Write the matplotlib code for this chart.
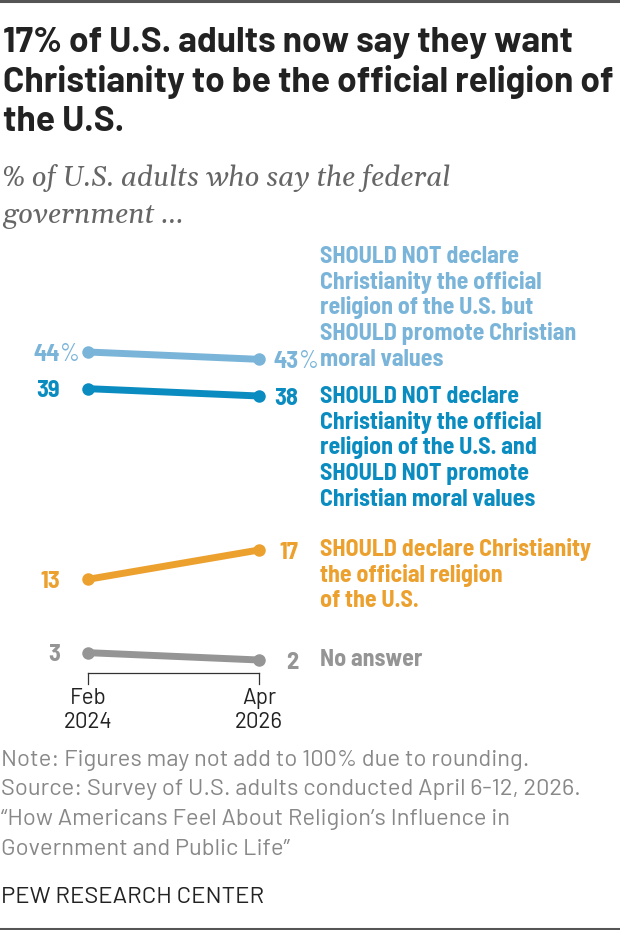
import matplotlib.pyplot as plt
from matplotlib.lines import Line2D

W, H = 620, 930

periods = ["Feb\n2024", "Apr\n2026"]
series_names = [
    "SHOULD NOT declare\nChristianity the official\nreligion of the U.S. but\nSHOULD promote Christian\nmoral values",
    "SHOULD NOT declare\nChristianity the official\nreligion of the U.S. and\nSHOULD NOT promote\nChristian moral values",
    "SHOULD declare Christianity\nthe official religion\nof the U.S.",
    "No answer",
]
feb_values = [44, 39, 13, 3]
apr_values = [43, 38, 17, 2]
colors = ["#7ab5d9", "#0a8cc0", "#eca12f", "#959595"]

title_lines = ["17% of U.S. adults now say they want",
               "Christianity to be the official religion of",
               "the U.S."]
subtitle_lines = ["% of U.S. adults who say the federal", "government ..."]
note_lines = ["Note: Figures may not add to 100% due to rounding.",
              "Source: Survey of U.S. adults conducted April 6-12, 2026.",
              "\u201cHow Americans Feel About Religion\u2019s Influence in",
              "Government and Public Life\u201d"]

TITLE_FONT = ["Barlow", "Roboto", "Liberation Sans"]
LABEL_FONT = ["Barlow Semi Condensed", "Roboto", "Liberation Sans"]
BODY_FONT = ["Barlow", "Roboto", "Liberation Sans"]
SERIF = ["Gelasio", "DejaVu Serif"]

fig = plt.figure(figsize=(W / 100, H / 100), dpi=100)
renderer = fig.canvas.get_renderer()


def fx(x):
    return x / W


def fy(y):
    return 1 - y / H


def fit_size(text, target_px, **kw):
    # font size at which `text` is target_px wide
    t = fig.text(0, 0, text, fontsize=20, **kw)
    w = t.get_window_extent(renderer).width
    t.remove()
    return 20 * target_px / w


def put_lines(lines, x, baselines, **kw):
    for line, b in zip(lines, baselines):
        fig.text(fx(x), fy(b), line, ha="left", va="baseline", **kw)


# plot area: x from Feb (88px) to Apr (259px), y from 44 (352px) to 2 (660px)
ax = fig.add_axes([fx(88), fy(660), fx(259) - fx(88), fy(352) - fy(660)])
ax.set_xlim(0, 1)
ax.set_ylim(2, 44)
ax.axis("off")

xs = [0, 1]
for i in range(len(series_names)):
    ax.plot(xs, [feb_values[i], apr_values[i]], color=colors[i], lw=5,
            solid_capstyle="butt", clip_on=False, zorder=2)
    ax.plot(xs, [feb_values[i], apr_values[i]], "o", color=colors[i], ms=9,
            mec="none", clip_on=False, zorder=3)

# series labels
lab_fs = fit_size("SHOULD declare Christianity", 271, family=LABEL_FONT,
                  fontweight="bold")
first_base = [263, 403, 556, 666]
for i, name in enumerate(series_names):
    lines = name.split("\n")
    put_lines(lines, 320, [first_base[i] + 25.7 * k for k in range(len(lines))],
              color=colors[i], fontsize=lab_fs, fontweight="bold",
              family=LABEL_FONT)

# value labels
num_fs = lab_fs * 1.02
dy = -0.35 * num_fs
for i in range(len(series_names)):
    kw = dict(color=colors[i], fontsize=num_fs, fontweight="bold",
              family=LABEL_FONT, va="baseline", textcoords="offset points",
              annotation_clip=False)
    ax.annotate(str(feb_values[i]), (0, feb_values[i]), xytext=(-20, dy),
                ha="right", **kw)
    ax.annotate(str(apr_values[i]), (1, apr_values[i]), xytext=(28.5, dy),
                ha="right", **kw)
    if i == 0:
        kw["fontweight"] = "normal"
        ax.annotate("%", (0, feb_values[i]), xytext=(-20, dy), ha="left", **kw)
        ax.annotate("%", (1, apr_values[i]), xytext=(28.5, dy), ha="left", **kw)

# x axis bracket
bracket_y = 673
fig.add_artist(Line2D([fx(88), fx(259)], [fy(bracket_y), fy(bracket_y)],
                      color="#333333", lw=0.9))
for px in (88, 259):
    fig.add_artist(Line2D([fx(px), fx(px)], [fy(bracket_y), fy(684)],
                          color="#333333", lw=0.9))
tick_fs = fit_size("2024", 49, family=BODY_FONT)
for px, lab in zip((88, 259), periods):
    for line, b in zip(lab.split("\n"), (704, 728)):
        fig.text(fx(px), fy(b), line, ha="center", va="baseline",
                 fontsize=tick_fs, family=BODY_FONT, color="#222222")

# title + subtitle
title_fs = fit_size(title_lines[1], 611, family=TITLE_FONT, fontweight="bold")
put_lines(title_lines, 3, [52, 92, 131], fontsize=title_fs, fontweight="bold",
          family=TITLE_FONT, color="#222222")
sub_fs = fit_size(subtitle_lines[0], 449, family=SERIF, style="italic")
put_lines(subtitle_lines, 2, [186, 223], fontsize=sub_fs, style="italic",
          family=SERIF, color="#666666")

# footer
note_fs = fit_size(note_lines[1], 580, family=BODY_FONT)
put_lines(note_lines, 1, [766, 795, 825, 855], fontsize=note_fs,
          family=BODY_FONT, color="#888888")
pew_fs = fit_size("PEW RESEARCH CENTER", 263, family=BODY_FONT)
put_lines(["PEW RESEARCH CENTER"], 1, [903], fontsize=pew_fs,
          family=BODY_FONT, color="#222222")

# top and bottom rules
fig.add_artist(Line2D([0, 1], [fy(1), fy(1)], color="#555555", lw=2.2))
fig.add_artist(Line2D([0, 1], [fy(928.5), fy(928.5)], color="#555555", lw=2.2))

fig.savefig("out.png", dpi=100)
